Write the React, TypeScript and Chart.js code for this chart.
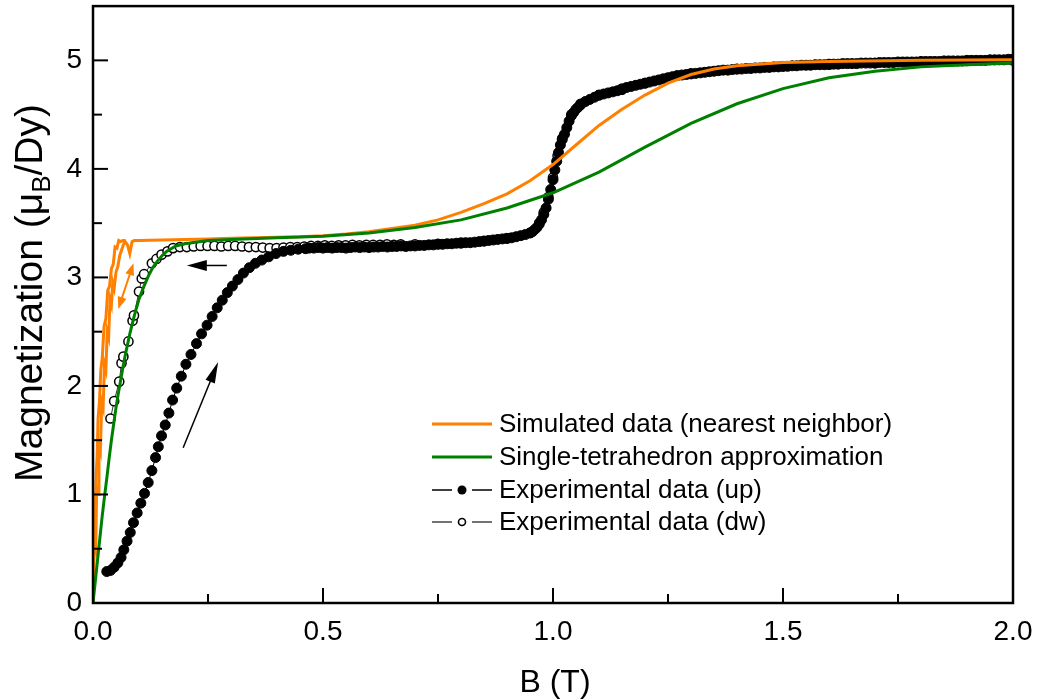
import React, { useEffect, useRef } from 'react';
import { Chart, registerables } from 'chart.js';

Chart.register(...registerables);

const FONT = "'Liberation Sans', Arial, Helvetica, sans-serif";

// ---- axis setup ----
const xMin = 0;
const xMax = 2;
const xStep = 0.25;
const yMin = 0;
const yMax = 5.5;
const yStep = 0.5;
const xTitle = 'B (T)';
const yTitleParts = ['Magnetization (\u03bc', 'B', '/Dy)'];

// ---- series: [B (T), M (muB/Dy)] ----
const simUp: [number, number][] = [
  [0, 0], [0.003, 0.55], [0.006, 0.5], [0.008, 1.05], [0.011, 1.0], [0.013, 1.45], [0.016, 1.4],
  [0.019, 1.85], [0.022, 1.8], [0.025, 2.2], [0.028, 2.15], [0.031, 2.5], [0.034, 2.45], [0.037, 2.8],
  [0.04, 2.75], [0.043, 2.95], [0.046, 2.9], [0.05, 3.05], [0.054, 3.1], [0.058, 3.2], [0.062, 3.25],
  [0.066, 3.3], [0.07, 3.33], [0.075, 3.3], [0.08, 3.22], [0.085, 3.33], [0.09, 3.34], [0.1, 3.34],
  [0.15, 3.345], [0.2, 3.35], [0.25, 3.355], [0.3, 3.36], [0.35, 3.365], [0.4, 3.37], [0.45, 3.375],
  [0.5, 3.385], [0.55, 3.4], [0.6, 3.42], [0.65, 3.45], [0.7, 3.48], [0.75, 3.53], [0.8, 3.6],
  [0.85, 3.68], [0.9, 3.77], [0.95, 3.89], [1.0, 4.04], [1.05, 4.22], [1.1, 4.4], [1.15, 4.55],
  [1.2, 4.68], [1.25, 4.79], [1.3, 4.87], [1.35, 4.92], [1.4, 4.95], [1.5, 4.98], [1.6, 4.99],
  [1.8, 5.0], [2.0, 5.005],
];

const simDw: [number, number][] = [
  [0.07, 3.34], [0.065, 3.34], [0.06, 3.33], [0.056, 3.34], [0.052, 3.27], [0.048, 3.28], [0.044, 3.12],
  [0.04, 3.08], [0.036, 2.92], [0.032, 2.88], [0.028, 2.62], [0.024, 2.55], [0.02, 2.25], [0.017, 2.15],
  [0.014, 1.85], [0.011, 1.7], [0.009, 1.35], [0.007, 1.2], [0.005, 0.85], [0.003, 0.7], [0.001, 0.3],
  [0, 0],
];

const tetra: [number, number][] = [
  [0, 0], [0.005, 0.2], [0.01, 0.4], [0.015, 0.6], [0.02, 0.8], [0.025, 0.98], [0.03, 1.15],
  [0.035, 1.33], [0.04, 1.5], [0.045, 1.65], [0.05, 1.8], [0.055, 1.93], [0.06, 2.05], [0.065, 2.17],
  [0.07, 2.28], [0.08, 2.48], [0.09, 2.65], [0.1, 2.8], [0.11, 2.91], [0.12, 3.01], [0.13, 3.09],
  [0.14, 3.15], [0.15, 3.2], [0.16, 3.24], [0.18, 3.29], [0.2, 3.31], [0.25, 3.34], [0.3, 3.35],
  [0.4, 3.365], [0.5, 3.38], [0.6, 3.41], [0.7, 3.46], [0.8, 3.53], [0.9, 3.64], [1.0, 3.78],
  [1.1, 3.97], [1.2, 4.2], [1.3, 4.42], [1.4, 4.6], [1.5, 4.74], [1.6, 4.84], [1.7, 4.9],
  [1.8, 4.94], [1.9, 4.96], [2.0, 4.975],
];

const expUp: [number, number][] = [
  [0.030, 0.29], [0.038, 0.30], [0.046, 0.33], [0.054, 0.37], [0.061, 0.42], [0.067, 0.49], [0.074, 0.57],
  [0.081, 0.65], [0.088, 0.74], [0.096, 0.83], [0.104, 0.92], [0.112, 1.01], [0.120, 1.11], [0.128, 1.22],
  [0.136, 1.34], [0.142, 1.44], [0.149, 1.54], [0.157, 1.64], [0.165, 1.75], [0.173, 1.87], [0.182, 1.98],
  [0.192, 2.09], [0.202, 2.20], [0.213, 2.29], [0.225, 2.39], [0.236, 2.48], [0.248, 2.56], [0.259, 2.64],
  [0.270, 2.72], [0.281, 2.79], [0.292, 2.86], [0.303, 2.92], [0.315, 2.98], [0.327, 3.04], [0.340, 3.09],
  [0.353, 3.13], [0.367, 3.16], [0.382, 3.19], [0.398, 3.22], [0.414, 3.24], [0.430, 3.25], [0.446, 3.26],
  [0.462, 3.265],
  [0.47, 3.27], [0.48, 3.27], [0.49, 3.275], [0.50, 3.27], [0.51, 3.275], [0.52, 3.27], [0.53, 3.275],
  [0.54, 3.275], [0.55, 3.27], [0.56, 3.275], [0.57, 3.28], [0.58, 3.275], [0.59, 3.28], [0.60, 3.275],
  [0.61, 3.28], [0.62, 3.28], [0.63, 3.285], [0.64, 3.28], [0.65, 3.285], [0.66, 3.285], [0.67, 3.29],
  [0.68, 3.285], [0.69, 3.29], [0.70, 3.29], [0.71, 3.295], [0.72, 3.295], [0.73, 3.30], [0.74, 3.30],
  [0.75, 3.305], [0.76, 3.305], [0.77, 3.31], [0.78, 3.31], [0.79, 3.315], [0.80, 3.315], [0.81, 3.32],
  [0.82, 3.32], [0.83, 3.325], [0.84, 3.33], [0.85, 3.335], [0.86, 3.34], [0.87, 3.345], [0.88, 3.35],
  [0.89, 3.355], [0.90, 3.36], [0.91, 3.365], [0.92, 3.375], [0.93, 3.385], [0.94, 3.395], [0.95, 3.41],
  [0.955, 3.42], [0.96, 3.44], [0.965, 3.46], [0.97, 3.49], [0.975, 3.53], [0.98, 3.58], [0.985, 3.64],
  [0.99, 3.72], [0.995, 3.81], [1.0, 3.90], [1.004, 3.99], [1.008, 4.07], [1.012, 4.15], [1.016, 4.22],
  [1.02, 4.27], [1.025, 4.32], [1.03, 4.38], [1.035, 4.44], [1.04, 4.49], [1.045, 4.52], [1.05, 4.55],
  [1.055, 4.57], [1.06, 4.59], [1.07, 4.62], [1.08, 4.64], [1.09, 4.66], [1.10, 4.68], [1.11, 4.69],
  [1.12, 4.70], [1.13, 4.71], [1.14, 4.72], [1.15, 4.73], [1.16, 4.75], [1.17, 4.76], [1.18, 4.77],
  [1.19, 4.78], [1.20, 4.79], [1.21, 4.80], [1.22, 4.81], [1.23, 4.82], [1.24, 4.83], [1.25, 4.84],
  [1.26, 4.85], [1.27, 4.86], [1.28, 4.865], [1.29, 4.87], [1.30, 4.875], [1.31, 4.88], [1.32, 4.885],
  [1.33, 4.89], [1.34, 4.895], [1.35, 4.90], [1.36, 4.905], [1.37, 4.91], [1.38, 4.91], [1.39, 4.915],
  [1.40, 4.92], [1.41, 4.92], [1.42, 4.925], [1.43, 4.925], [1.44, 4.93], [1.45, 4.93], [1.46, 4.935],
  [1.47, 4.935], [1.48, 4.94], [1.49, 4.94], [1.50, 4.945], [1.51, 4.945], [1.52, 4.95], [1.53, 4.95],
  [1.54, 4.955], [1.55, 4.955], [1.56, 4.955], [1.57, 4.96], [1.58, 4.96], [1.59, 4.96], [1.60, 4.965],
  [1.61, 4.965], [1.62, 4.965], [1.63, 4.97], [1.64, 4.97], [1.65, 4.97], [1.66, 4.97], [1.67, 4.975],
  [1.68, 4.975], [1.69, 4.975], [1.70, 4.975], [1.71, 4.98], [1.72, 4.98], [1.73, 4.98], [1.74, 4.98],
  [1.75, 4.985], [1.76, 4.985], [1.77, 4.985], [1.78, 4.985], [1.79, 4.985], [1.80, 4.99], [1.81, 4.99],
  [1.82, 4.99], [1.83, 4.99], [1.84, 4.99], [1.85, 4.995], [1.86, 4.995], [1.87, 4.995], [1.88, 4.995],
  [1.89, 4.995], [1.90, 5.0], [1.91, 5.0], [1.92, 5.0], [1.93, 5.0], [1.94, 5.0], [1.95, 5.005],
  [1.96, 5.005], [1.97, 5.005], [1.98, 5.005], [1.99, 5.01], [2.00, 5.01],
];

const expDw: [number, number][] = [
  [0.038, 1.70], [0.046, 1.86], [0.057, 2.04], [0.062, 2.21], [0.066, 2.27], [0.077, 2.41], [0.086, 2.60],
  [0.089, 2.65], [0.100, 2.87], [0.106, 2.99], [0.111, 3.03], [0.128, 3.13], [0.138, 3.17], [0.149, 3.21],
  [0.162, 3.24], [0.174, 3.27], [0.189, 3.28], [0.204, 3.28], [0.219, 3.285], [0.234, 3.29], [0.249, 3.29],
  [0.264, 3.29], [0.279, 3.285], [0.294, 3.29], [0.309, 3.29], [0.324, 3.285], [0.339, 3.28], [0.354, 3.28],
  [0.369, 3.275], [0.384, 3.27], [0.399, 3.27], [0.414, 3.275], [0.429, 3.28], [0.444, 3.28], [0.459, 3.285],
  [0.474, 3.29], [0.489, 3.29], [0.504, 3.295], [0.519, 3.29], [0.534, 3.295], [0.549, 3.295], [0.564, 3.30],
  [0.579, 3.295], [0.594, 3.30], [0.609, 3.30], [0.624, 3.30], [0.639, 3.305], [0.654, 3.30], [0.669, 3.305],
  [0.7, 3.305], [0.75, 3.31], [0.8, 3.32], [0.85, 3.335], [0.9, 3.36], [0.95, 3.41], [0.97, 3.5],
  [0.98, 3.6], [0.99, 3.74], [1.0, 3.92], [1.01, 4.12], [1.02, 4.28], [1.04, 4.5], [1.06, 4.6],
  [1.1, 4.68], [1.15, 4.74], [1.2, 4.79], [1.3, 4.88], [1.4, 4.92], [1.5, 4.945], [1.6, 4.96],
  [1.7, 4.975], [1.8, 4.985], [1.9, 4.995], [2.0, 5.0],
];

// ---- legend & annotations ----
const legendLabels = [
  'Simulated data (nearest neighbor)',
  'Single-tetrahedron approximation',
  'Experimental data (up)',
  'Experimental data (dw)',
];
const orange = '#FF8000';
const green = '#008000';

// arrows in data units: [B, M] from -> to
const arrowSweepUp = { from: [0.196, 1.43], to: [0.272, 2.22] };
const arrowSweepDown = { from: [0.291, 3.11], to: [0.204, 3.11] };
const arrowSimLoop = { from: [0.055, 2.71], to: [0.088, 3.13] };

const toPts = (arr: [number, number][]) => arr.map(([x, y]) => ({ x, y }));

function head(ctx: CanvasRenderingContext2D, x1: number, y1: number, x2: number, y2: number, len: number, w: number) {
  const ang = Math.atan2(y2 - y1, x2 - x1);
  ctx.beginPath();
  ctx.moveTo(x2, y2);
  ctx.lineTo(x2 - len * Math.cos(ang) + (w / 2) * Math.sin(ang), y2 - len * Math.sin(ang) - (w / 2) * Math.cos(ang));
  ctx.lineTo(x2 - len * Math.cos(ang) - (w / 2) * Math.sin(ang), y2 - len * Math.sin(ang) + (w / 2) * Math.cos(ang));
  ctx.closePath();
  ctx.fill();
}

function arrow(chart: any, a: { from: number[]; to: number[] }, color: string, lw: number, len: number, w: number, both: boolean) {
  const { ctx, scales } = chart;
  const x1 = scales.x.getPixelForValue(a.from[0]);
  const y1 = scales.y.getPixelForValue(a.from[1]);
  const x2 = scales.x.getPixelForValue(a.to[0]);
  const y2 = scales.y.getPixelForValue(a.to[1]);
  ctx.save();
  ctx.strokeStyle = color;
  ctx.fillStyle = color;
  ctx.lineWidth = lw;
  const ang = Math.atan2(y2 - y1, x2 - x1);
  const sx = both ? x1 + (len - 2) * Math.cos(ang) : x1;
  const sy = both ? y1 + (len - 2) * Math.sin(ang) : y1;
  ctx.beginPath();
  ctx.moveTo(sx, sy);
  ctx.lineTo(x2 - (len - 2) * Math.cos(ang), y2 - (len - 2) * Math.sin(ang));
  ctx.stroke();
  head(ctx, x1, y1, x2, y2, len, w);
  if (both) head(ctx, x2, y2, x1, y1, len, w);
  ctx.restore();
}

const overlayPlugin = {
  id: 'overlay',
  afterDatasetsDraw(chart: any) {
    const { ctx, chartArea: a, scales } = chart;
    // arrows
    arrow(chart, arrowSweepUp, '#000', 1.5, 21, 10, false);
    arrow(chart, arrowSweepDown, '#000', 1.5, 20, 11, false);
    arrow(chart, arrowSimLoop, orange, 2, 12, 9, true);

    // legend
    ctx.save();
    const lx0 = 432, lx1 = 492, tx = 499, rows = [424, 457, 490, 522];
    ctx.font = `26px ${FONT}`;
    ctx.textBaseline = 'middle';
    ctx.textAlign = 'left';
    legendLabels.forEach((lab, i) => {
      const y = rows[i];
      if (i < 2) {
        ctx.strokeStyle = i === 0 ? orange : green;
        ctx.lineWidth = 3;
        ctx.beginPath(); ctx.moveTo(lx0, y); ctx.lineTo(lx1, y); ctx.stroke();
      } else {
        ctx.strokeStyle = i === 2 ? '#000' : '#444';
        ctx.lineWidth = 1.5;
        ctx.beginPath(); ctx.moveTo(lx0, y); ctx.lineTo(452, y); ctx.moveTo(472, y); ctx.lineTo(lx1, y); ctx.stroke();
        ctx.beginPath();
        ctx.arc(462, y, i === 2 ? 4.5 : 3.5, 0, Math.PI * 2);
        if (i === 2) { ctx.fillStyle = '#000'; ctx.fill(); }
        else { ctx.fillStyle = '#fff'; ctx.fill(); ctx.strokeStyle = '#000'; ctx.lineWidth = 1.6; ctx.stroke(); }
      }
      ctx.fillStyle = '#000';
      ctx.fillText(lab, tx, y + 1);
    });
    ctx.restore();

    // frame and inward ticks
    ctx.save();
    ctx.strokeStyle = '#000';
    ctx.lineWidth = 2.5;
    ctx.strokeRect(a.left, a.top, a.right - a.left, a.bottom - a.top);
    ctx.lineWidth = 2;
    scales.x.ticks.forEach((t: any) => {
      const px = scales.x.getPixelForValue(t.value);
      const major = t.label !== '';
      ctx.beginPath(); ctx.moveTo(px, a.bottom); ctx.lineTo(px, a.bottom - (major ? 15 : 9)); ctx.stroke();
    });
    scales.y.ticks.forEach((t: any) => {
      if (t.value >= yMax) return;
      const py = scales.y.getPixelForValue(t.value);
      const major = t.label !== '';
      ctx.beginPath(); ctx.moveTo(a.left, py); ctx.lineTo(a.left + (major ? 15 : 9), py); ctx.stroke();
    });
    ctx.restore();
  },
  afterDraw(chart: any) {
    const { ctx, chartArea: a } = chart;
    ctx.save();
    ctx.fillStyle = '#000';
    // x title
    ctx.font = `32px ${FONT}`;
    ctx.textAlign = 'center';
    ctx.textBaseline = 'alphabetic';
    ctx.fillText(xTitle, (a.left + a.right) / 2 + 2, 692);
    // y title with subscript
    ctx.translate(42, 293);
    ctx.rotate(-Math.PI / 2);
    ctx.textAlign = 'left';
    const big = `39px ${FONT}`;
    const small = `26px ${FONT}`;
    ctx.font = big;
    const w1 = ctx.measureText(yTitleParts[0]).width;
    const w3 = ctx.measureText(yTitleParts[2]).width;
    ctx.font = small;
    const w2 = ctx.measureText(yTitleParts[1]).width;
    let x = -(w1 + w2 + w3) / 2;
    ctx.font = big; ctx.fillText(yTitleParts[0], x, 0); x += w1;
    ctx.font = small; ctx.fillText(yTitleParts[1], x, 8); x += w2;
    ctx.font = big; ctx.fillText(yTitleParts[2], x, 0);
    ctx.restore();
  },
};

export default function App() {
  const ref = useRef<HTMLCanvasElement | null>(null);
  useEffect(() => {
    document.body.style.margin = '0';
    const canvas = ref.current;
    if (!canvas) return;
    const line = (data: [number, number][], color: string, order: number) => ({
      data: toPts(data),
      borderColor: color,
      backgroundColor: color,
      borderWidth: 3,
      pointRadius: 0,
      pointHoverRadius: 0,
      showLine: true,
      tension: 0,
      order,
    });
    const chart = new Chart(canvas, {
      type: 'scatter',
      data: {
        datasets: [
          { label: legendLabels[1], ...line(tetra, green, 0) },
          { label: legendLabels[0], ...line(simUp, orange, 1) },
          { label: legendLabels[0] + ' dw', ...line(simDw, orange, 1) },
          {
            label: legendLabels[2],
            data: toPts(expUp),
            showLine: true,
            borderColor: '#000',
            borderWidth: 1,
            pointRadius: 5,
            pointHoverRadius: 5,
            pointBackgroundColor: '#000',
            pointBorderColor: '#000',
            pointBorderWidth: 1,
            order: 2,
          },
          {
            label: legendLabels[3],
            data: toPts(expDw),
            showLine: true,
            borderColor: '#333',
            borderWidth: 1,
            pointRadius: 4.6,
            pointHoverRadius: 4.6,
            pointBackgroundColor: '#fff',
            pointBorderColor: '#000',
            pointBorderWidth: 1.5,
            order: 3,
          },
        ] as any,
      },
      options: {
        animation: false,
        responsive: false,
        devicePixelRatio: 1,
        events: [],
        layout: { padding: { top: 5, right: 26, left: 0, bottom: 0 } },
        plugins: { legend: { display: false }, tooltip: { enabled: false } },
        scales: {
          x: {
            type: 'linear',
            min: xMin,
            max: xMax,
            grid: { display: false, drawTicks: false },
            border: { display: false },
            afterFit: (s: any) => { s.height = 97; s.paddingLeft = 0; s.paddingRight = 0; },
            ticks: {
              stepSize: xStep,
              autoSkip: false,
              maxRotation: 0,
              padding: 12,
              color: '#000',
              font: { family: FONT, size: 28 },
              callback: (v: any) => {
                const n = Number(v);
                return Math.abs(n * 2 - Math.round(n * 2)) < 1e-6 ? n.toFixed(1) : '';
              },
            },
          },
          y: {
            type: 'linear',
            min: yMin,
            max: yMax,
            grid: { display: false, drawTicks: false },
            border: { display: false },
            afterFit: (s: any) => { s.width = 93; s.paddingTop = 0; s.paddingBottom = 0; },
            ticks: {
              stepSize: yStep,
              autoSkip: false,
              padding: 11,
              color: '#000',
              font: { family: FONT, size: 28 },
              callback: (v: any) => {
                const n = Number(v);
                return Math.abs(n - Math.round(n)) < 1e-6 && n <= 5 ? String(Math.round(n)) : '';
              },
            },
          },
        },
      } as any,
      plugins: [overlayPlugin],
    });
    return () => chart.destroy();
  }, []);
  return (
    <div style={{ width: 1039, height: 700, background: '#fff' }}>
      <canvas ref={ref} width={1039} height={700} style={{ display: 'block' }} />
    </div>
  );
}
